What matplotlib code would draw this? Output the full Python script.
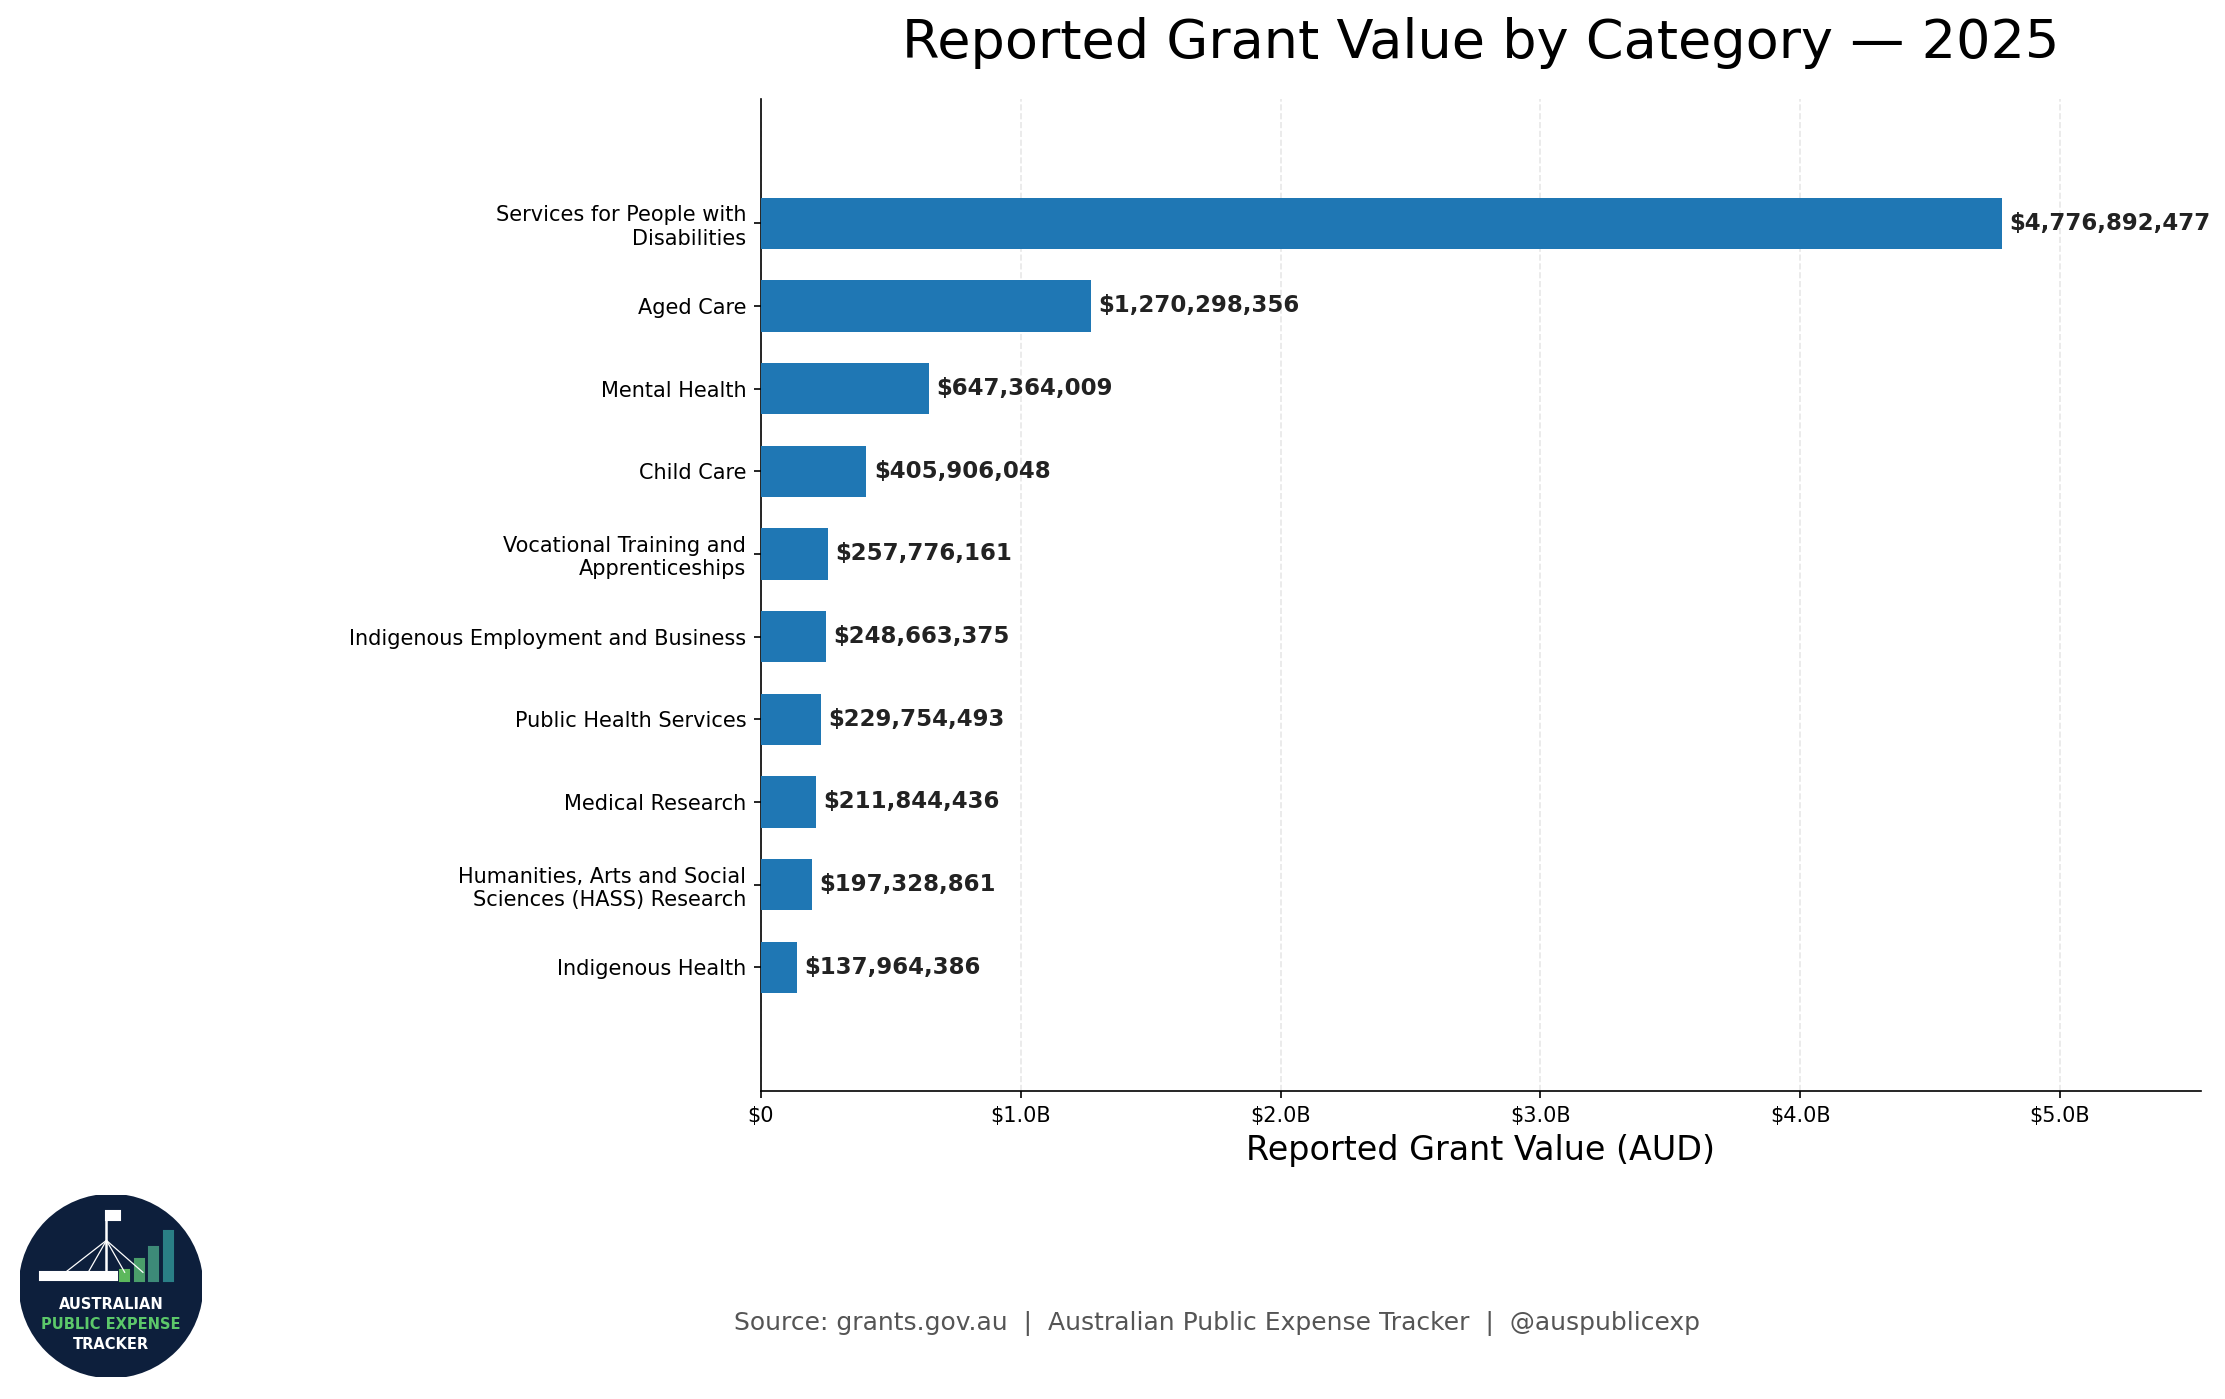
import matplotlib.pyplot as plt
from matplotlib.patches import Circle, Rectangle
from matplotlib.ticker import FuncFormatter

categories = [
    "Services for People with\nDisabilities",
    "Aged Care",
    "Mental Health",
    "Child Care",
    "Vocational Training and\nApprenticeships",
    "Indigenous Employment and Business",
    "Public Health Services",
    "Medical Research",
    "Humanities, Arts and Social\nSciences (HASS) Research",
    "Indigenous Health",
]
values = [4776892477, 1270298356, 647364009, 405906048, 257776161,
          248663375, 229754493, 211844436, 197328861, 137964386]
x_ticks = [0, 1e9, 2e9, 3e9, 4e9, 5e9]


def fmt_billions(x, pos):
    if x == 0:
        return "$0"
    return f"${x / 1e9:.1f}B"


fig = plt.figure(figsize=(2225 / 150, 1399 / 150), dpi=150)
ax = fig.add_axes([0.342, 0.220, 0.647, 0.709])

ypos = list(range(len(categories)))
ax.barh(ypos, values, height=0.62, color="#1f77b4", zorder=3)
ax.set_yticks(ypos)
ax.set_yticklabels(categories, fontsize=10)
ax.set_ylim(len(categories) + 0.5, -1.5)

vmax = max(values)
ax.set_xlim(0, vmax * 1.16)
ax.set_xticks(x_ticks)
ax.xaxis.set_major_formatter(FuncFormatter(fmt_billions))
ax.tick_params(axis="x", labelsize=10)

for y, v in zip(ypos, values):
    ax.text(v + vmax * 0.006, y, f"${v:,.0f}", va="center", ha="left",
            fontsize=11, fontweight="bold", color="#222222", zorder=4)

ax.grid(axis="x", linestyle="--", color="#dddddd", alpha=0.7, zorder=0)
ax.spines["top"].set_visible(False)
ax.spines["right"].set_visible(False)

ax.set_xlabel("Reported Grant Value (AUD)", fontsize=16)
ax.set_title("Reported Grant Value by Category \u2014 2025", fontsize=26, pad=20)

fig.text(0.547, 0.054,
         "Source: grants.gov.au  |  Australian Public Expense Tracker  |  @auspublicexp",
         ha="center", va="center", fontsize=12, color="#555555")

# logo (rough redraw)
lw_, lh_ = 0.082, 0.082 * 2225 / 1399
lg = fig.add_axes([111 / 2225 - lw_ / 2, 1 - 1286 / 1399 - lh_ / 2, lw_, lh_])
lg.set_xlim(-1, 1)
lg.set_ylim(-1, 1)
lg.set_aspect("equal")
lg.axis("off")
lg.add_patch(Circle((0, 0), 1, color="#0d1f3c"))
lg.add_patch(Rectangle((-0.78, 0.07), 0.85, 0.08, color="white"))
lg.plot([-0.05, -0.05], [0.15, 0.78], color="white", lw=1.2)
for dx in (-0.5, -0.25, 0.15, 0.35):
    lg.plot([-0.05, dx], [0.5, 0.15], color="white", lw=0.6)
lg.add_patch(Rectangle((-0.05, 0.72), 0.15, 0.1, color="white"))
bar_h = [0.12, 0.25, 0.38, 0.55]
bar_c = ["#5cb85c", "#4a9e6a", "#3d8a78", "#2a7f86"]
for i, (h, c) in enumerate(zip(bar_h, bar_c)):
    lg.add_patch(Rectangle((0.1 + i * 0.16, 0.05), 0.1, h, color=c))
lg.text(0, -0.2, "AUSTRALIAN", ha="center", va="center", color="white",
        fontsize=7, fontweight="bold")
lg.text(0, -0.42, "PUBLIC EXPENSE", ha="center", va="center", color="#5cc86a",
        fontsize=7, fontweight="bold")
lg.text(0, -0.64, "TRACKER", ha="center", va="center", color="white",
        fontsize=7, fontweight="bold")

fig.savefig("out.png", dpi=150)
